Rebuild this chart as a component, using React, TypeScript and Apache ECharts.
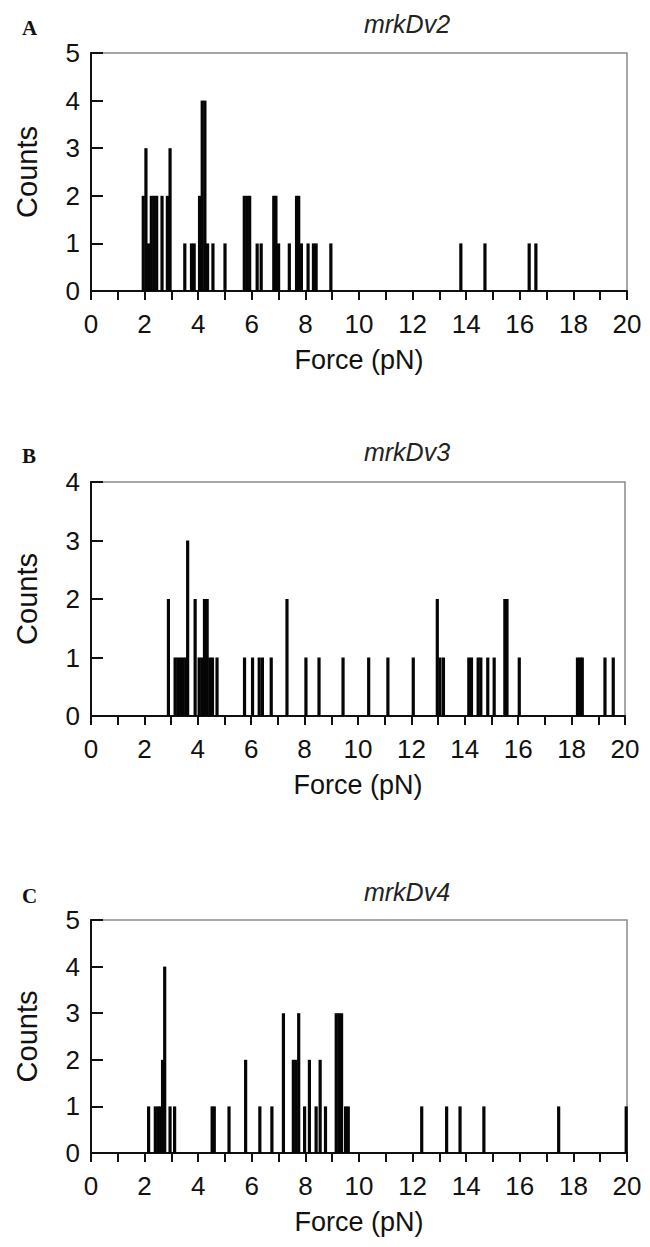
import React, { useEffect, useRef } from 'react';
import * as echarts from 'echarts';

// Panel A – mrkDv2
const forceA = [1.95, 2.05, 2.15, 2.25, 2.35, 2.45, 2.65, 2.85, 2.95, 3.5, 3.75, 3.85, 4.05, 4.15, 4.25, 4.35, 4.55, 5.0, 5.72, 5.82, 5.92, 6.2, 6.35, 6.82, 6.9, 7.0, 7.4, 7.67, 7.75, 7.85, 8.1, 8.3, 8.4, 8.95, 13.8, 14.7, 16.35, 16.6];
const countA = [2, 3, 1, 2, 2, 2, 2, 2, 3, 1, 1, 1, 2, 4, 4, 1, 1, 1, 2, 2, 2, 1, 1, 2, 2, 1, 1, 2, 2, 1, 1, 1, 1, 1, 1, 1, 1, 1];

// Panel B – mrkDv3
const forceB = [2.9, 3.15, 3.25, 3.35, 3.45, 3.55, 3.62, 3.9, 4.05, 4.15, 4.25, 4.35, 4.45, 4.55, 4.72, 5.75, 6.05, 6.3, 6.42, 6.75, 7.34, 8.05, 8.54, 9.44, 10.4, 11.12, 12.07, 12.97, 13.07, 13.2, 14.15, 14.25, 14.5, 14.6, 14.86, 15.1, 15.5, 15.58, 16.04, 18.22, 18.32, 18.4, 19.25, 19.56];
const countB = [2, 1, 1, 1, 1, 1, 3, 2, 1, 1, 2, 2, 1, 1, 1, 1, 1, 1, 1, 1, 2, 1, 1, 1, 1, 1, 1, 2, 1, 1, 1, 1, 1, 1, 1, 1, 2, 2, 1, 1, 1, 1, 1, 1];

// Panel C – mrkDv4
const forceC = [2.15, 2.4, 2.5, 2.58, 2.67, 2.75, 2.95, 3.12, 4.52, 4.6, 5.15, 5.77, 6.3, 6.75, 7.18, 7.55, 7.65, 7.75, 7.97, 8.15, 8.4, 8.55, 8.75, 9.15, 9.25, 9.35, 9.5, 9.6, 12.34, 13.27, 13.77, 14.66, 17.45, 19.97];
const countC = [1, 1, 1, 1, 2, 4, 1, 1, 1, 1, 1, 2, 1, 1, 3, 2, 2, 3, 1, 2, 1, 2, 1, 3, 3, 3, 1, 1, 1, 1, 1, 1, 1, 1];

const panelLetters = ['A', 'B', 'C'];
const panelTitles = ['mrkDv2', 'mrkDv3', 'mrkDv4'];
const yMaxes = [5, 4, 5];
const xAxisName = 'Force (pN)';
const yAxisName = 'Counts';

const FONT = '"Liberation Sans", Arial, Helvetica, sans-serif';

export default function App() {
  const ref = useRef<HTMLDivElement>(null);

  useEffect(() => {
    document.body.style.margin = '0';
    const chart = echarts.init(ref.current as HTMLDivElement, null, { renderer: 'svg' });

    const layout = [
      { left: 91, width: 536, top: 53, height: 238, titleY: 24, letterY: 28 },
      { left: 91, width: 534, top: 482, height: 234, titleY: 452, letterY: 456 },
      { left: 91, width: 536, top: 920, height: 233, titleY: 892, letterY: 896 },
    ];
    const forces = [forceA, forceB, forceC];
    const counts = [countA, countB, countC];

    const grid = layout.map((l) => ({
      left: l.left,
      top: l.top,
      width: l.width,
      height: l.height,
      show: true,
      borderColor: '#8a8a8a',
      borderWidth: 1.5,
      backgroundColor: 'transparent',
    }));

    const xAxis = layout.map((_, i) => ({
      type: 'value',
      gridIndex: i,
      min: 0,
      max: 20,
      interval: 1,
      name: xAxisName,
      nameLocation: 'middle',
      nameGap: 55,
      nameTextStyle: { fontFamily: FONT, fontSize: 27, color: '#111' },
      axisLine: { show: true, onZero: false, lineStyle: { color: '#111', width: 2 } },
      axisTick: { show: true, inside: false, length: 9, lineStyle: { color: '#111', width: 2 } },
      axisLabel: {
        margin: 20,
        fontFamily: FONT,
        fontSize: 26,
        color: '#111',
        showMinLabel: true,
        showMaxLabel: true,
        formatter: (v: number) => (Math.round(v) % 2 === 0 ? String(Math.round(v)) : ''),
      },
      splitLine: { show: false },
    }));

    const yAxis = layout.map((_, i) => ({
      type: 'value',
      gridIndex: i,
      min: 0,
      max: yMaxes[i],
      interval: 1,
      name: yAxisName,
      nameLocation: 'middle',
      nameRotate: 90,
      nameGap: 50,
      nameTextStyle: { fontFamily: FONT, fontSize: 29, color: '#111' },
      axisLine: { show: true, lineStyle: { color: '#111', width: 2 } },
      axisTick: { show: true, inside: true, length: 12, lineStyle: { color: '#111', width: 2 } },
      axisLabel: { margin: 11, fontFamily: FONT, fontSize: 26, color: '#111' },
      splitLine: { show: false },
    }));

    const series = layout.map((_, i) => ({
      type: 'bar',
      xAxisIndex: i,
      yAxisIndex: i,
      barWidth: 3.2,
      itemStyle: { color: '#050505' },
      data: forces[i].map((f, j) => [f, counts[i][j]]),
    }));

    const graphic: any[] = [];
    layout.forEach((l, i) => {
      graphic.push({
        type: 'text',
        left: 22,
        top: l.letterY - 11,
        style: {
          text: panelLetters[i],
          font: 'bold 21px "Liberation Serif", "Times New Roman", serif',
          fill: '#111',
        },
      });
      graphic.push({
        type: 'text',
        x: 407,
        y: l.titleY,
        style: {
          text: panelTitles[i],
          font: `italic 25px ${FONT}`,
          fill: '#222',
          align: 'center',
          verticalAlign: 'middle',
        },
      });
    });

    chart.setOption({
      animation: false,
      backgroundColor: '#fff',
      grid,
      xAxis,
      yAxis,
      series,
      graphic,
    } as any);

    return () => chart.dispose();
  }, []);

  return <div ref={ref} style={{ width: 650, height: 1247 }} />;
}
